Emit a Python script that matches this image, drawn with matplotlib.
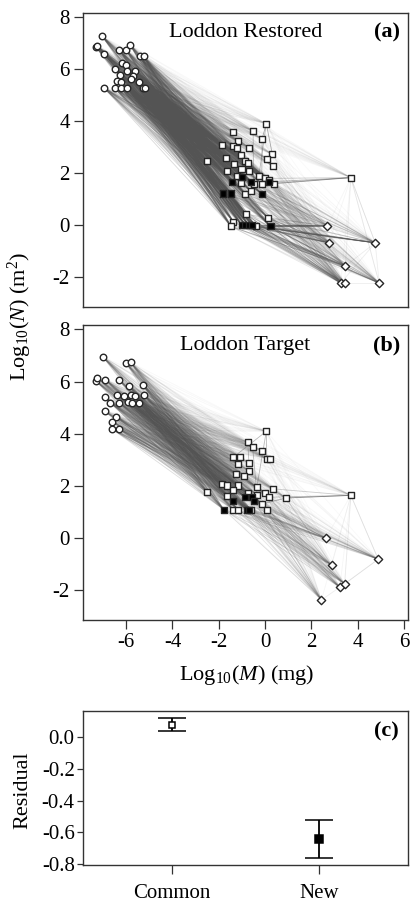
import matplotlib
matplotlib.use('Agg')
import matplotlib.pyplot as plt
from matplotlib.collections import LineCollection

plt.rcParams['font.family'] = ['Liberation Serif', 'DejaVu Serif']
plt.rcParams['mathtext.fontset'] = 'custom'
plt.rcParams['mathtext.rm'] = 'Liberation Serif'
plt.rcParams['mathtext.it'] = 'Liberation Serif:italic'
plt.rcParams['mathtext.bf'] = 'Liberation Serif:bold'

# ---- (a) Loddon Restored ----
# producers (circles)
prod_a_x = [-7.03, -7.31, -7.25, -6.94, -6.29, -6.0, -5.83, -5.42, -5.25, -6.5, -6.19, -6.0, -6.27,
            -5.95, -5.6, -5.7, -5.8, -6.4, -6.2, -5.45, -6.94, -6.48, -6.23, -5.95, -5.27, -5.2]
prod_a_y = [7.27, 6.86, 6.9, 6.6, 6.73, 6.73, 6.94, 6.5, 6.5, 6.03, 6.25, 6.15, 5.8,
            5.93, 5.93, 5.73, 5.63, 5.55, 5.5, 5.5, 5.27, 5.27, 5.27, 5.27, 5.27, 5.27]
# consumers (squares), fill, link shade from producers, link shade to top predators
cons_a_x = [0.05, -1.38, -0.52, -0.13, -1.86, -1.18, -1.4, -1.2, -0.7, -1.05, 0.31, 0.1, -1.7,
            -0.85, -1.35, -0.72, 0.35, -2.5, -1.63, -1.02, -0.68, -1.2, -0.27, 0.0, -1.04, -0.5,
            -0.15, 0.4, 0.18, -0.85, -0.6, -0.82, -1.37, -1.47, -0.4, 0.13, 3.7,
            -1.83, -1.48, -0.15, -1.42, -0.63, -1.0, 0.16, -1.0, -0.85, -0.7, -0.55, 0.23]
cons_a_y = [3.91, 3.6, 3.64, 3.33, 3.1, 3.25, 3.05, 2.98, 2.98, 2.69, 2.73, 2.54, 2.6,
            2.48, 2.35, 2.4, 2.27, 2.48, 2.1, 2.17, 2.1, 1.9, 1.9, 1.8, 1.64, 1.6,
            1.6, 1.6, 1.73, 1.19, 1.3, 0.42, 0.13, -0.05, -0.05, 0.27, 1.83,
            1.22, 1.22, 1.2, 1.67, 1.67, 1.86, 1.67, 0.0, 0.0, 0.0, 0.0, -0.05]
cons_a_fill = ['w'] * 37 + ['k'] * 12
cons_a_link = [0.04, 0.05, 0.05, 0.05, 0.06, 0.06, 0.06, 0.06, 0.06, 0.08, 0.05, 0.06, 0.08,
               0.08, 0.1, 0.08, 0.06, 0.12, 0.12, 0.1, 0.1, 0.14, 0.1, 0.1, 0.15, 0.14,
               0.12, 0.1, 0.1, 0.2, 0.18, 0.2, 0.22, 0.22, 0.2, 0.15, 0.035,
               0.22, 0.22, 0.18, 0.2, 0.18, 0.16, 0.14, 0.25, 0.25, 0.25, 0.25, 0.2]
cons_a_top = [0.03, 0.02, 0.02, 0.03, 0.02, 0.02, 0.02, 0.02, 0.02, 0.03, 0.04, 0.04, 0.02,
              0.03, 0.03, 0.03, 0.05, 0.02, 0.04, 0.04, 0.04, 0.05, 0.06, 0.06, 0.08, 0.1,
              0.1, 0.12, 0.1, 0.15, 0.15, 0.2, 0.15, 0.15, 0.25, 0.25, 0.05,
              0.15, 0.15, 0.2, 0.12, 0.15, 0.12, 0.2, 0.3, 0.3, 0.3, 0.3, 0.35]
# top predators (diamonds)
top_a_x = [2.69, 2.76, 4.75, 3.45, 3.26, 3.43, 4.92]
top_a_y = [-0.03, -0.68, -0.68, -1.58, -2.23, -2.23, -2.23]
# extra links: (prey group, index, predator group, index, shade)
extra_a = [('c', 27, 'c', 36, 0.6), ('c', 43, 'c', 36, 0.4), ('c', 23, 'c', 36, 0.3),
           ('c', 26, 'c', 36, 0.3), ('c', 48, 't', 0, 0.7), ('c', 34, 't', 2, 0.6),
           ('c', 47, 't', 2, 0.5), ('c', 3, 'c', 0, 0.5), ('c', 10, 'c', 0, 0.5),
           ('c', 22, 'c', 0, 0.4), ('c', 26, 'c', 3, 0.4), ('c', 25, 'c', 2, 0.4),
           ('t', 4, 't', 2, 0.1), ('t', 6, 't', 2, 0.1), ('t', 3, 't', 2, 0.1),
           ('t', 5, 't', 6, 0.1), ('c', 36, 't', 6, 0.1), ('c', 36, 't', 2, 0.15),
           ('c', 35, 't', 1, 0.4), ('c', 33, 't', 3, 0.4), ('c', 31, 't', 4, 0.4)]

# ---- (b) Loddon Target ----
prod_b_x = [-7.01, -7.3, -7.24, -6.9, -6.3, -6.0, -5.8, -5.28, -5.23, -6.93, -6.4, -6.1, -5.87,
            -5.8, -5.6, -6.68, -6.3, -5.9, -5.73, -5.46, -6.93, -6.43, -6.6, -6.6, -6.3]
prod_b_y = [6.95, 6.01, 6.14, 6.07, 6.05, 6.7, 6.73, 5.87, 5.5, 5.39, 5.5, 5.46, 5.81,
            5.5, 5.46, 5.18, 5.18, 5.22, 5.18, 5.18, 4.86, 4.65, 4.46, 4.17, 4.17]
cons_b_x = [0.05, -0.75, -0.54, -0.13, -1.38, -1.1, -1.18, -0.7, 0.07, 0.2, -0.7, -1.27, -0.9,
            -1.87, -1.65, -1.18, -0.36, 0.35, -1.38, -1.63, -0.74, -0.35, 0.0, 0.17, -2.5, 0.9,
            3.7, -0.13, -1.37, -1.17, -0.6, 0.1,
            -1.78, -0.8, -0.7, -1.4, -0.85, -0.55, -0.5]
cons_b_y = [4.09, 3.67, 3.47, 3.35, 3.09, 3.12, 2.84, 2.88, 3.04, 3.04, 2.58, 2.45, 2.39,
            2.08, 2.01, 2.01, 1.94, 1.88, 1.82, 1.62, 1.72, 1.65, 1.72, 1.56, 1.75, 1.53,
            1.63, 1.3, 1.08, 1.08, 1.08, 1.08,
            1.08, 1.08, 1.08, 1.4, 1.55, 1.55, 1.4]
cons_b_fill = ['w'] * 32 + ['k'] * 7
cons_b_link = [0.04, 0.05, 0.05, 0.05, 0.06, 0.06, 0.06, 0.06, 0.05, 0.05, 0.07, 0.08, 0.08,
               0.1, 0.1, 0.1, 0.08, 0.06, 0.1, 0.12, 0.1, 0.1, 0.08, 0.08, 0.12, 0.06,
               0.035, 0.1, 0.15, 0.15, 0.15, 0.12,
               0.2, 0.18, 0.18, 0.16, 0.16, 0.16, 0.15]
cons_b_top = [0.03, 0.02, 0.02, 0.03, 0.02, 0.02, 0.02, 0.02, 0.03, 0.03, 0.03, 0.03, 0.03,
              0.04, 0.04, 0.05, 0.06, 0.06, 0.06, 0.08, 0.08, 0.1, 0.1, 0.1, 0.04, 0.1,
              0.05, 0.15, 0.15, 0.15, 0.2, 0.2,
              0.2, 0.2, 0.2, 0.15, 0.15, 0.15, 0.2]
top_b_x = [2.61, 2.87, 4.88, 3.22, 3.43, 2.43]
top_b_y = [-0.01, -1.05, -0.82, -1.9, -1.77, -2.38]
extra_b = [('c', 25, 'c', 26, 0.7), ('c', 27, 'c', 25, 0.5), ('c', 23, 'c', 26, 0.4),
           ('c', 17, 'c', 26, 0.3), ('c', 4, 'c', 0, 0.4), ('c', 8, 'c', 0, 0.4),
           ('c', 16, 'c', 0, 0.4), ('c', 9, 'c', 3, 0.4), ('c', 21, 'c', 2, 0.4),
           ('c', 7, 'c', 1, 0.4), ('t', 3, 't', 2, 0.1), ('t', 5, 't', 4, 0.1),
           ('t', 4, 't', 2, 0.1), ('c', 26, 't', 2, 0.15), ('c', 26, 't', 4, 0.08)]

# ---- (c) residuals ----
res_groups = ['Common', 'New']
res_mean = [0.08, -0.64]
res_low = [0.04, -0.76]
res_high = [0.12, -0.52]
res_fill = ['w', 'k']

LINK = (0.33, 0.33, 0.33)
EDGE = '0.15'


def draw_web(ax, px, py, cx, cy, cfill, clink, ctop, tx, ty, extra):
    nodes = {'p': (px, py), 'c': (cx, cy), 't': (tx, ty)}
    segs, cols = [], []
    for j in range(len(cx)):
        for i in range(len(px)):
            segs.append([(px[i], py[i]), (cx[j], cy[j])])
            cols.append(LINK + (clink[j],))
    for k in range(len(tx)):
        for j in range(len(cx)):
            segs.append([(cx[j], cy[j]), (tx[k], ty[k])])
            cols.append(LINK + (ctop[j],))
    for g1, i1, g2, i2, a in extra:
        x1, y1 = nodes[g1][0][i1], nodes[g1][1][i1]
        x2, y2 = nodes[g2][0][i2], nodes[g2][1][i2]
        segs.append([(x1, y1), (x2, y2)])
        cols.append(LINK + (a,))
    ax.add_collection(LineCollection(segs, colors=cols, linewidths=0.6, zorder=1))
    ax.scatter(px, py, s=22, marker='o', facecolor='w', edgecolor=EDGE, linewidths=1.0, zorder=3)
    ax.scatter(cx, cy, s=19, marker='s', facecolor=cfill, edgecolor=EDGE, linewidths=1.0, zorder=3)
    ax.scatter(tx, ty, s=18, marker='D', facecolor='w', edgecolor=EDGE, linewidths=1.0, zorder=3)
    ax.set_xlim(-7.86, 6.17)
    ax.set_ylim(-3.15, 8.17)
    ax.set_yticks([-2, 0, 2, 4, 6, 8])
    ax.set_yticklabels(['-2', '0', '2', '4', '6', '8'])
    ax.set_xticks([-6, -4, -2, 0, 2, 4, 6])
    ax.set_xticklabels(['-6', '-4', '-2', '0', '2', '4', '6'])


def style(ax):
    for s in ax.spines.values():
        s.set_color('0.2')
        s.set_linewidth(1.0)
    ax.tick_params(direction='out', length=6.5, width=0.9, color='0.2', labelsize=15, pad=3)


fig = plt.figure(figsize=(4.11, 9.09), dpi=100)
ax_a = fig.add_axes([0.202, 0.6623, 0.791, 0.3234])
ax_b = fig.add_axes([0.202, 0.318, 0.791, 0.3245])
ax_c = fig.add_axes([0.202, 0.0484, 0.791, 0.1694])

draw_web(ax_a, prod_a_x, prod_a_y, cons_a_x, cons_a_y, cons_a_fill, cons_a_link, cons_a_top,
         top_a_x, top_a_y, extra_a)
draw_web(ax_b, prod_b_x, prod_b_y, cons_b_x, cons_b_y, cons_b_fill, cons_b_link, cons_b_top,
         top_b_x, top_b_y, extra_b)
for ax in (ax_a, ax_b, ax_c):
    style(ax)
ax_a.tick_params(axis='x', bottom=False, labelbottom=False)

ax_a.text(0.5, 0.935, 'Loddon Restored', transform=ax_a.transAxes, ha='center', va='center', fontsize=16)
ax_a.text(0.975, 0.935, '(a)', transform=ax_a.transAxes, ha='right', va='center', fontsize=16, fontweight='bold')
ax_b.text(0.5, 0.932, 'Loddon Target', transform=ax_b.transAxes, ha='center', va='center', fontsize=16)
ax_b.text(0.975, 0.932, '(b)', transform=ax_b.transAxes, ha='right', va='center', fontsize=16, fontweight='bold')

xpos = [1, 2]
for i in range(len(res_groups)):
    ax_c.errorbar(xpos[i], res_mean[i],
                  yerr=[[res_mean[i] - res_low[i]], [res_high[i] - res_mean[i]]],
                  fmt='s', color='k', ecolor='k', elinewidth=1.3, capsize=10, capthick=1.3,
                  markersize=5 if res_fill[i] == 'w' else 6, markerfacecolor=res_fill[i],
                  markeredgecolor='k', markeredgewidth=1.1)
ax_c.set_xlim(0.4, 2.6)
ax_c.set_ylim(-0.806, 0.166)
ax_c.set_xticks(xpos)
ax_c.set_xticklabels(res_groups)
ax_c.set_yticks([-0.8, -0.6, -0.4, -0.2, 0.0])
ax_c.set_yticklabels(['-0.8', '-0.6', '-0.4', '-0.2', '0.0'])
ax_c.tick_params(axis='x', pad=7)
ax_c.tick_params(axis='y', length=4, pad=2)
ax_c.text(0.972, 0.866, '(c)', transform=ax_c.transAxes, ha='right', va='center', fontsize=16, fontweight='bold')

fig.text(0.049, 0.652, 'Log$_{10}$($N$) (m$^2$)', rotation=90, ha='center', va='center', fontsize=16)
fig.text(0.6, 0.2574, 'Log$_{10}$($M$) (mg)', ha='center', va='center', fontsize=16)
fig.text(0.056, 0.131, 'Residual', rotation=90, ha='center', va='center', fontsize=16)

fig.savefig('out.png', dpi=100)
